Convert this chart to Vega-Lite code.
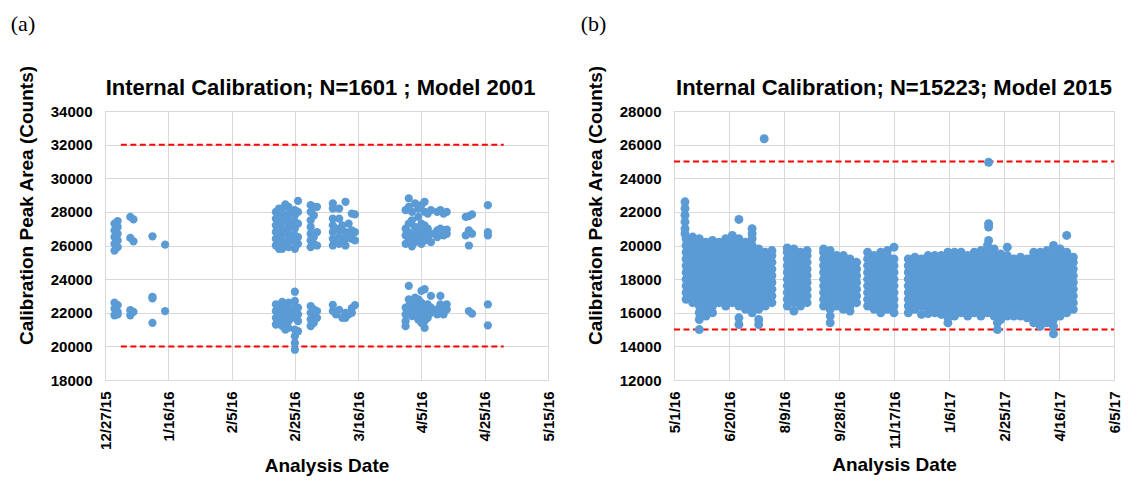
{
  "$schema": "https://vega.github.io/schema/vega-lite/v6.json",
  "background": "white",
  "padding": {"left": 10, "top": 12, "right": 0, "bottom": 0},
  "spacing": 23,
  "config": {
    "font": "Liberation Sans",
    "view": {"stroke": "#d9d9d9", "strokeWidth": 1},
    "axis": {
      "labelFont": "Liberation Sans", "labelFontWeight": "bold", "labelFontSize": 15, "labelColor": "#000000",
      "titleFont": "Liberation Sans", "titleFontWeight": "bold", "titleFontSize": 19, "titleColor": "#000000",
      "gridColor": "#d9d9d9", "gridWidth": 1, "domainColor": "#d9d9d9", "domainWidth": 1, "ticks": false,
      "labelOverlap": false, "labelFlush": false
    },
    "title": {"font": "Liberation Sans", "fontSize": 22, "fontWeight": "bold", "color": "#000000"}
  },
  "datasets": {
    "la": [{"d": "2016-01-01", "d2": "2016-05-01", "v": 32000}, {"d": "2016-01-01", "d2": "2016-05-01", "v": 20000}],
    "lb": [{"d": "2016-05-01", "d2": "2017-06-05", "v": 25000}, {"d": "2016-05-01", "d2": "2017-06-05", "v": 15000}],
    "a": [
      {"d":"2015-12-30","v":25700},{"d":"2015-12-30","v":26100},{"d":"2015-12-30","v":26500},{"d":"2015-12-30","v":26900},{"d":"2015-12-30","v":27300},{"d":"2015-12-30","v":21850},{"d":"2015-12-30","v":22250},{"d":"2015-12-30","v":22600},
      {"d":"2015-12-31","v":25900},{"d":"2015-12-31","v":26300},{"d":"2015-12-31","v":26700},{"d":"2015-12-31","v":27100},{"d":"2015-12-31","v":27450},{"d":"2015-12-31","v":22050},{"d":"2015-12-31","v":22450},{"d":"2015-12-31","v":21900},
      {"d":"2016-01-04","v":27700},{"d":"2016-01-04","v":26450},{"d":"2016-01-04","v":21850},{"d":"2016-01-04","v":22150},
      {"d":"2016-01-05","v":27550},{"d":"2016-01-05","v":26250},{"d":"2016-01-05","v":22050},
      {"d":"2016-01-11","v":26550},{"d":"2016-01-11","v":22950},{"d":"2016-01-11","v":22850},{"d":"2016-01-11","v":21400},
      {"d":"2016-01-15","v":26050},{"d":"2016-01-15","v":22100},
      {"d":"2016-02-19","v":26000},{"d":"2016-02-19","v":26400},{"d":"2016-02-19","v":26800},{"d":"2016-02-19","v":27200},{"d":"2016-02-19","v":27600},{"d":"2016-02-19","v":28000},{"d":"2016-02-19","v":21300},{"d":"2016-02-19","v":21700},{"d":"2016-02-19","v":22100},{"d":"2016-02-19","v":22500},
      {"d":"2016-02-20","v":25800},{"d":"2016-02-20","v":26600},{"d":"2016-02-20","v":27400},{"d":"2016-02-20","v":28200},{"d":"2016-02-20","v":21500},{"d":"2016-02-20","v":21900},{"d":"2016-02-20","v":22300},
      {"d":"2016-02-21","v":25800},{"d":"2016-02-21","v":26200},{"d":"2016-02-21","v":26600},{"d":"2016-02-21","v":27000},{"d":"2016-02-21","v":27400},{"d":"2016-02-21","v":27800},{"d":"2016-02-21","v":28200},{"d":"2016-02-21","v":21200},{"d":"2016-02-21","v":21600},{"d":"2016-02-21","v":22000},{"d":"2016-02-21","v":22400},{"d":"2016-02-21","v":22650},
      {"d":"2016-02-22","v":26000},{"d":"2016-02-22","v":26800},{"d":"2016-02-22","v":27600},{"d":"2016-02-22","v":28450},{"d":"2016-02-22","v":21000},{"d":"2016-02-22","v":21400},{"d":"2016-02-22","v":21800},{"d":"2016-02-22","v":22200},
      {"d":"2016-02-23","v":25900},{"d":"2016-02-23","v":26300},{"d":"2016-02-23","v":26700},{"d":"2016-02-23","v":27100},{"d":"2016-02-23","v":27500},{"d":"2016-02-23","v":27900},{"d":"2016-02-23","v":28300},{"d":"2016-02-23","v":21100},{"d":"2016-02-23","v":21500},{"d":"2016-02-23","v":21900},{"d":"2016-02-23","v":22300},{"d":"2016-02-23","v":22600},
      {"d":"2016-02-24","v":26400},{"d":"2016-02-24","v":27200},{"d":"2016-02-24","v":28000},{"d":"2016-02-24","v":21700},{"d":"2016-02-24","v":22100},
      {"d":"2016-02-25","v":25800},{"d":"2016-02-25","v":26200},{"d":"2016-02-25","v":26600},{"d":"2016-02-25","v":27000},{"d":"2016-02-25","v":27400},{"d":"2016-02-25","v":27800},{"d":"2016-02-25","v":28100},{"d":"2016-02-25","v":23250},{"d":"2016-02-25","v":22700},{"d":"2016-02-25","v":22300},{"d":"2016-02-25","v":21800},{"d":"2016-02-25","v":21000},{"d":"2016-02-25","v":20600},{"d":"2016-02-25","v":20200},{"d":"2016-02-25","v":19800},
      {"d":"2016-02-26","v":26100},{"d":"2016-02-26","v":26500},{"d":"2016-02-26","v":27300},{"d":"2016-02-26","v":28000},{"d":"2016-02-26","v":28650},{"d":"2016-02-26","v":21500},{"d":"2016-02-26","v":21900},{"d":"2016-02-26","v":22300},{"d":"2016-02-26","v":20900},
      {"d":"2016-03-01","v":25900},{"d":"2016-03-01","v":26300},{"d":"2016-03-01","v":26700},{"d":"2016-03-01","v":27100},{"d":"2016-03-01","v":27500},{"d":"2016-03-01","v":28000},{"d":"2016-03-01","v":28400},{"d":"2016-03-01","v":21200},{"d":"2016-03-01","v":21600},{"d":"2016-03-01","v":22000},{"d":"2016-03-01","v":22400},
      {"d":"2016-03-02","v":26100},{"d":"2016-03-02","v":26500},{"d":"2016-03-02","v":27800},{"d":"2016-03-02","v":28300},{"d":"2016-03-02","v":21400},{"d":"2016-03-02","v":21800},{"d":"2016-03-02","v":22200},
      {"d":"2016-03-03","v":26000},{"d":"2016-03-03","v":26800},{"d":"2016-03-03","v":28300},{"d":"2016-03-03","v":21700},{"d":"2016-03-03","v":22100},
      {"d":"2016-03-08","v":26000},{"d":"2016-03-08","v":26400},{"d":"2016-03-08","v":26800},{"d":"2016-03-08","v":27200},{"d":"2016-03-08","v":27600},{"d":"2016-03-08","v":28200},{"d":"2016-03-08","v":28500},{"d":"2016-03-08","v":22470},{"d":"2016-03-08","v":22100},
      {"d":"2016-03-09","v":26200},{"d":"2016-03-09","v":27000},{"d":"2016-03-09","v":21900},
      {"d":"2016-03-10","v":26100},{"d":"2016-03-10","v":26500},{"d":"2016-03-10","v":26900},{"d":"2016-03-10","v":27600},{"d":"2016-03-10","v":28200},{"d":"2016-03-10","v":22170},
      {"d":"2016-03-11","v":26300},{"d":"2016-03-11","v":27200},{"d":"2016-03-11","v":21700},
      {"d":"2016-03-12","v":26000},{"d":"2016-03-12","v":26400},{"d":"2016-03-12","v":26800},{"d":"2016-03-12","v":28600},{"d":"2016-03-12","v":21700},{"d":"2016-03-12","v":22000},
      {"d":"2016-03-13","v":27300},{"d":"2016-03-13","v":26500},{"d":"2016-03-13","v":21900},
      {"d":"2016-03-14","v":26400},{"d":"2016-03-14","v":26900},{"d":"2016-03-14","v":27900},{"d":"2016-03-14","v":22270},{"d":"2016-03-14","v":22000},
      {"d":"2016-03-15","v":27850},{"d":"2016-03-15","v":26800},{"d":"2016-03-15","v":26300},{"d":"2016-03-15","v":22450},
      {"d":"2016-03-31","v":26100},{"d":"2016-03-31","v":26600},{"d":"2016-03-31","v":27000},{"d":"2016-03-31","v":28100},{"d":"2016-03-31","v":21200},{"d":"2016-03-31","v":21500},{"d":"2016-03-31","v":21900},{"d":"2016-03-31","v":22300},
      {"d":"2016-04-01","v":26300},{"d":"2016-04-01","v":26800},{"d":"2016-04-01","v":27300},{"d":"2016-04-01","v":28300},{"d":"2016-04-01","v":28800},{"d":"2016-04-01","v":22000},{"d":"2016-04-01","v":22400},{"d":"2016-04-01","v":22800},{"d":"2016-04-01","v":23600},
      {"d":"2016-04-02","v":25950},{"d":"2016-04-02","v":26500},{"d":"2016-04-02","v":27500},{"d":"2016-04-02","v":28000},{"d":"2016-04-02","v":21800},{"d":"2016-04-02","v":22200},{"d":"2016-04-02","v":22600},
      {"d":"2016-04-03","v":26200},{"d":"2016-04-03","v":26700},{"d":"2016-04-03","v":27100},{"d":"2016-04-03","v":28500},{"d":"2016-04-03","v":22100},{"d":"2016-04-03","v":22500},{"d":"2016-04-03","v":22900},
      {"d":"2016-04-04","v":26400},{"d":"2016-04-04","v":26900},{"d":"2016-04-04","v":27700},{"d":"2016-04-04","v":28200},{"d":"2016-04-04","v":21600},{"d":"2016-04-04","v":22000},{"d":"2016-04-04","v":22400},{"d":"2016-04-04","v":22800},
      {"d":"2016-04-05","v":26100},{"d":"2016-04-05","v":26600},{"d":"2016-04-05","v":27300},{"d":"2016-04-05","v":28400},{"d":"2016-04-05","v":21400},{"d":"2016-04-05","v":21800},{"d":"2016-04-05","v":22200},{"d":"2016-04-05","v":22600},{"d":"2016-04-05","v":23300},
      {"d":"2016-04-06","v":26300},{"d":"2016-04-06","v":26800},{"d":"2016-04-06","v":27200},{"d":"2016-04-06","v":28000},{"d":"2016-04-06","v":28600},{"d":"2016-04-06","v":21100},{"d":"2016-04-06","v":21500},{"d":"2016-04-06","v":21900},{"d":"2016-04-06","v":22300},{"d":"2016-04-06","v":23400},
      {"d":"2016-04-07","v":26500},{"d":"2016-04-07","v":27000},{"d":"2016-04-07","v":27900},{"d":"2016-04-07","v":21700},{"d":"2016-04-07","v":22100},{"d":"2016-04-07","v":22500},
      {"d":"2016-04-08","v":26200},{"d":"2016-04-08","v":26700},{"d":"2016-04-08","v":28100},{"d":"2016-04-08","v":22000},{"d":"2016-04-08","v":22300},{"d":"2016-04-08","v":23000},
      {"d":"2016-04-10","v":26500},{"d":"2016-04-10","v":26900},{"d":"2016-04-10","v":28000},{"d":"2016-04-10","v":21900},{"d":"2016-04-10","v":22200},
      {"d":"2016-04-11","v":26800},{"d":"2016-04-11","v":27000},{"d":"2016-04-11","v":28100},{"d":"2016-04-11","v":22100},{"d":"2016-04-11","v":22500},{"d":"2016-04-11","v":23000},
      {"d":"2016-04-12","v":26600},{"d":"2016-04-12","v":26900},{"d":"2016-04-12","v":27900},{"d":"2016-04-12","v":21900},{"d":"2016-04-12","v":22300},
      {"d":"2016-04-13","v":26700},{"d":"2016-04-13","v":26950},{"d":"2016-04-13","v":28000},{"d":"2016-04-13","v":22200},{"d":"2016-04-13","v":22500},
      {"d":"2016-04-19","v":27700},{"d":"2016-04-19","v":26600},
      {"d":"2016-04-20","v":27750},{"d":"2016-04-20","v":26900},{"d":"2016-04-20","v":26000},{"d":"2016-04-20","v":22100},
      {"d":"2016-04-21","v":27850},{"d":"2016-04-21","v":26700},{"d":"2016-04-21","v":21950},
      {"d":"2016-04-26","v":28400},{"d":"2016-04-26","v":26800},{"d":"2016-04-26","v":26600},{"d":"2016-04-26","v":22500},{"d":"2016-04-26","v":21250}
    ],
    "b": [
      {"d":"2016-05-11","v":22600},{"d":"2016-05-11","v":22200},{"d":"2016-05-11","v":21800},{"d":"2016-05-11","v":21400},{"d":"2016-05-11","v":21000},{"d":"2016-05-11","v":20700},
      {"d":"2016-05-12","v":16800},{"d":"2016-05-12","v":17200},{"d":"2016-05-12","v":17600},{"d":"2016-05-12","v":18000},{"d":"2016-05-12","v":18400},{"d":"2016-05-12","v":18800},{"d":"2016-05-12","v":19200},{"d":"2016-05-12","v":19600},{"d":"2016-05-12","v":20000},{"d":"2016-05-12","v":20400},
      {"d":"2016-05-18","v":16600},{"d":"2016-05-18","v":17000},{"d":"2016-05-18","v":17400},{"d":"2016-05-18","v":17800},{"d":"2016-05-18","v":18200},{"d":"2016-05-18","v":18600},{"d":"2016-05-18","v":19000},{"d":"2016-05-18","v":19400},{"d":"2016-05-18","v":19800},{"d":"2016-05-18","v":20200},{"d":"2016-05-18","v":20500},
      {"d":"2016-05-24","v":15000},{"d":"2016-05-24","v":15600},{"d":"2016-05-24","v":16000},{"d":"2016-05-24","v":16400},{"d":"2016-05-24","v":16800},{"d":"2016-05-24","v":17200},{"d":"2016-05-24","v":17600},{"d":"2016-05-24","v":18000},{"d":"2016-05-24","v":18400},{"d":"2016-05-24","v":18800},{"d":"2016-05-24","v":19200},{"d":"2016-05-24","v":19600},{"d":"2016-05-24","v":20000},{"d":"2016-05-24","v":20400},
      {"d":"2016-05-30","v":15800},{"d":"2016-05-30","v":16200},{"d":"2016-05-30","v":16600},{"d":"2016-05-30","v":17000},{"d":"2016-05-30","v":17400},{"d":"2016-05-30","v":17800},{"d":"2016-05-30","v":18200},{"d":"2016-05-30","v":18600},{"d":"2016-05-30","v":19000},{"d":"2016-05-30","v":19400},{"d":"2016-05-30","v":19800},{"d":"2016-05-30","v":20200},
      {"d":"2016-06-05","v":16000},{"d":"2016-06-05","v":16400},{"d":"2016-06-05","v":16800},{"d":"2016-06-05","v":17200},{"d":"2016-06-05","v":17600},{"d":"2016-06-05","v":18000},{"d":"2016-06-05","v":18400},{"d":"2016-06-05","v":18800},{"d":"2016-06-05","v":19200},{"d":"2016-06-05","v":19600},{"d":"2016-06-05","v":20000},{"d":"2016-06-05","v":20300},
      {"d":"2016-06-11","v":16600},{"d":"2016-06-11","v":17000},{"d":"2016-06-11","v":17400},{"d":"2016-06-11","v":17800},{"d":"2016-06-11","v":18200},{"d":"2016-06-11","v":18600},{"d":"2016-06-11","v":19000},{"d":"2016-06-11","v":19400},{"d":"2016-06-11","v":19800},{"d":"2016-06-11","v":20200},
      {"d":"2016-06-17","v":16400},{"d":"2016-06-17","v":16800},{"d":"2016-06-17","v":17200},{"d":"2016-06-17","v":17600},{"d":"2016-06-17","v":18000},{"d":"2016-06-17","v":18400},{"d":"2016-06-17","v":18800},{"d":"2016-06-17","v":19200},{"d":"2016-06-17","v":19600},{"d":"2016-06-17","v":20000},{"d":"2016-06-17","v":20400},
      {"d":"2016-06-23","v":16600},{"d":"2016-06-23","v":17000},{"d":"2016-06-23","v":17400},{"d":"2016-06-23","v":17800},{"d":"2016-06-23","v":18200},{"d":"2016-06-23","v":18600},{"d":"2016-06-23","v":19000},{"d":"2016-06-23","v":19400},{"d":"2016-06-23","v":19800},{"d":"2016-06-23","v":20200},{"d":"2016-06-23","v":20600},
      {"d":"2016-06-29","v":15300},{"d":"2016-06-29","v":15700},{"d":"2016-06-29","v":16400},{"d":"2016-06-29","v":16800},{"d":"2016-06-29","v":17200},{"d":"2016-06-29","v":17600},{"d":"2016-06-29","v":18000},{"d":"2016-06-29","v":18400},{"d":"2016-06-29","v":18800},{"d":"2016-06-29","v":19200},{"d":"2016-06-29","v":19600},{"d":"2016-06-29","v":20000},{"d":"2016-06-29","v":20400},{"d":"2016-06-29","v":21550},
      {"d":"2016-07-05","v":16200},{"d":"2016-07-05","v":16600},{"d":"2016-07-05","v":17000},{"d":"2016-07-05","v":17400},{"d":"2016-07-05","v":17800},{"d":"2016-07-05","v":18200},{"d":"2016-07-05","v":18600},{"d":"2016-07-05","v":19000},{"d":"2016-07-05","v":19400},{"d":"2016-07-05","v":19800},{"d":"2016-07-05","v":20200},
      {"d":"2016-07-11","v":16000},{"d":"2016-07-11","v":16400},{"d":"2016-07-11","v":16800},{"d":"2016-07-11","v":17200},{"d":"2016-07-11","v":17600},{"d":"2016-07-11","v":18000},{"d":"2016-07-11","v":18400},{"d":"2016-07-11","v":18800},{"d":"2016-07-11","v":19200},{"d":"2016-07-11","v":19600},{"d":"2016-07-11","v":20000},{"d":"2016-07-11","v":20400},{"d":"2016-07-11","v":20700},{"d":"2016-07-11","v":21000},
      {"d":"2016-07-17","v":15300},{"d":"2016-07-17","v":15600},{"d":"2016-07-17","v":16200},{"d":"2016-07-17","v":16600},{"d":"2016-07-17","v":17000},{"d":"2016-07-17","v":17400},{"d":"2016-07-17","v":17800},{"d":"2016-07-17","v":18200},{"d":"2016-07-17","v":18600},{"d":"2016-07-17","v":19000},{"d":"2016-07-17","v":19400},{"d":"2016-07-17","v":19800},
      {"d":"2016-07-22","v":26350},
      {"d":"2016-07-23","v":16400},{"d":"2016-07-23","v":16800},{"d":"2016-07-23","v":17200},{"d":"2016-07-23","v":17600},{"d":"2016-07-23","v":18000},{"d":"2016-07-23","v":18400},{"d":"2016-07-23","v":18800},{"d":"2016-07-23","v":19200},{"d":"2016-07-23","v":19600},
      {"d":"2016-07-29","v":16600},{"d":"2016-07-29","v":17000},{"d":"2016-07-29","v":17400},{"d":"2016-07-29","v":17800},{"d":"2016-07-29","v":18200},{"d":"2016-07-29","v":18600},{"d":"2016-07-29","v":19000},{"d":"2016-07-29","v":19400},{"d":"2016-07-29","v":19700},
      {"d":"2016-08-12","v":16400},{"d":"2016-08-12","v":16800},{"d":"2016-08-12","v":17200},{"d":"2016-08-12","v":17600},{"d":"2016-08-12","v":18000},{"d":"2016-08-12","v":18400},{"d":"2016-08-12","v":18800},{"d":"2016-08-12","v":19200},{"d":"2016-08-12","v":19600},{"d":"2016-08-12","v":19850},
      {"d":"2016-08-18","v":16100},{"d":"2016-08-18","v":16600},{"d":"2016-08-18","v":17000},{"d":"2016-08-18","v":17400},{"d":"2016-08-18","v":17800},{"d":"2016-08-18","v":18200},{"d":"2016-08-18","v":18600},{"d":"2016-08-18","v":19000},{"d":"2016-08-18","v":19400},{"d":"2016-08-18","v":19800},
      {"d":"2016-08-24","v":16400},{"d":"2016-08-24","v":16800},{"d":"2016-08-24","v":17200},{"d":"2016-08-24","v":17600},{"d":"2016-08-24","v":18000},{"d":"2016-08-24","v":18400},{"d":"2016-08-24","v":18800},{"d":"2016-08-24","v":19200},{"d":"2016-08-24","v":19600},
      {"d":"2016-08-30","v":16600},{"d":"2016-08-30","v":17000},{"d":"2016-08-30","v":17400},{"d":"2016-08-30","v":17800},{"d":"2016-08-30","v":18200},{"d":"2016-08-30","v":18600},{"d":"2016-08-30","v":19000},{"d":"2016-08-30","v":19400},{"d":"2016-08-30","v":19700},
      {"d":"2016-09-14","v":16400},{"d":"2016-09-14","v":16800},{"d":"2016-09-14","v":17200},{"d":"2016-09-14","v":17600},{"d":"2016-09-14","v":18000},{"d":"2016-09-14","v":18400},{"d":"2016-09-14","v":18800},{"d":"2016-09-14","v":19200},{"d":"2016-09-14","v":19600},{"d":"2016-09-14","v":19800},
      {"d":"2016-09-20","v":15400},{"d":"2016-09-20","v":15800},{"d":"2016-09-20","v":16200},{"d":"2016-09-20","v":16600},{"d":"2016-09-20","v":17000},{"d":"2016-09-20","v":17400},{"d":"2016-09-20","v":17800},{"d":"2016-09-20","v":18200},{"d":"2016-09-20","v":18600},{"d":"2016-09-20","v":19000},{"d":"2016-09-20","v":19400},{"d":"2016-09-20","v":19700},
      {"d":"2016-09-26","v":16400},{"d":"2016-09-26","v":16800},{"d":"2016-09-26","v":17200},{"d":"2016-09-26","v":17600},{"d":"2016-09-26","v":18000},{"d":"2016-09-26","v":18400},{"d":"2016-09-26","v":18800},{"d":"2016-09-26","v":19200},{"d":"2016-09-26","v":19400},
      {"d":"2016-10-02","v":16200},{"d":"2016-10-02","v":16600},{"d":"2016-10-02","v":17000},{"d":"2016-10-02","v":17400},{"d":"2016-10-02","v":17800},{"d":"2016-10-02","v":18200},{"d":"2016-10-02","v":18600},{"d":"2016-10-02","v":19000},{"d":"2016-10-02","v":19400},
      {"d":"2016-10-08","v":16100},{"d":"2016-10-08","v":16400},{"d":"2016-10-08","v":16800},{"d":"2016-10-08","v":17200},{"d":"2016-10-08","v":17600},{"d":"2016-10-08","v":18000},{"d":"2016-10-08","v":18400},{"d":"2016-10-08","v":18800},{"d":"2016-10-08","v":19200},
      {"d":"2016-10-14","v":16600},{"d":"2016-10-14","v":17000},{"d":"2016-10-14","v":17400},{"d":"2016-10-14","v":17800},{"d":"2016-10-14","v":18200},{"d":"2016-10-14","v":18600},{"d":"2016-10-14","v":19000},
      {"d":"2016-10-24","v":16400},{"d":"2016-10-24","v":16800},{"d":"2016-10-24","v":17200},{"d":"2016-10-24","v":17600},{"d":"2016-10-24","v":18000},{"d":"2016-10-24","v":18400},{"d":"2016-10-24","v":18800},{"d":"2016-10-24","v":19200},{"d":"2016-10-24","v":19600},
      {"d":"2016-10-30","v":16200},{"d":"2016-10-30","v":16600},{"d":"2016-10-30","v":17000},{"d":"2016-10-30","v":17400},{"d":"2016-10-30","v":17800},{"d":"2016-10-30","v":18200},{"d":"2016-10-30","v":18600},{"d":"2016-10-30","v":19000},{"d":"2016-10-30","v":19400},
      {"d":"2016-11-05","v":16000},{"d":"2016-11-05","v":16400},{"d":"2016-11-05","v":16800},{"d":"2016-11-05","v":17200},{"d":"2016-11-05","v":17600},{"d":"2016-11-05","v":18000},{"d":"2016-11-05","v":18400},{"d":"2016-11-05","v":18800},{"d":"2016-11-05","v":19200},{"d":"2016-11-05","v":19600},
      {"d":"2016-11-11","v":16200},{"d":"2016-11-11","v":16600},{"d":"2016-11-11","v":17000},{"d":"2016-11-11","v":17400},{"d":"2016-11-11","v":17800},{"d":"2016-11-11","v":18200},{"d":"2016-11-11","v":18600},{"d":"2016-11-11","v":19000},{"d":"2016-11-11","v":19400},{"d":"2016-11-11","v":19700},
      {"d":"2016-11-17","v":16000},{"d":"2016-11-17","v":16400},{"d":"2016-11-17","v":16800},{"d":"2016-11-17","v":17200},{"d":"2016-11-17","v":17600},{"d":"2016-11-17","v":18000},{"d":"2016-11-17","v":18400},{"d":"2016-11-17","v":18800},{"d":"2016-11-17","v":19200},{"d":"2016-11-17","v":19900},
      {"d":"2016-11-30","v":16000},{"d":"2016-11-30","v":16400},{"d":"2016-11-30","v":16800},{"d":"2016-11-30","v":17200},{"d":"2016-11-30","v":17600},{"d":"2016-11-30","v":18000},{"d":"2016-11-30","v":18400},{"d":"2016-11-30","v":18800},{"d":"2016-11-30","v":19200},
      {"d":"2016-12-06","v":16200},{"d":"2016-12-06","v":16600},{"d":"2016-12-06","v":17000},{"d":"2016-12-06","v":17400},{"d":"2016-12-06","v":17800},{"d":"2016-12-06","v":18200},{"d":"2016-12-06","v":18600},{"d":"2016-12-06","v":19000},{"d":"2016-12-06","v":19300},
      {"d":"2016-12-12","v":15900},{"d":"2016-12-12","v":16400},{"d":"2016-12-12","v":16800},{"d":"2016-12-12","v":17200},{"d":"2016-12-12","v":17600},{"d":"2016-12-12","v":18000},{"d":"2016-12-12","v":18400},{"d":"2016-12-12","v":18800},{"d":"2016-12-12","v":19200},
      {"d":"2016-12-18","v":15950},{"d":"2016-12-18","v":16200},{"d":"2016-12-18","v":16600},{"d":"2016-12-18","v":17000},{"d":"2016-12-18","v":17400},{"d":"2016-12-18","v":17800},{"d":"2016-12-18","v":18200},{"d":"2016-12-18","v":18600},{"d":"2016-12-18","v":19000},{"d":"2016-12-18","v":19400},
      {"d":"2016-12-24","v":16000},{"d":"2016-12-24","v":16400},{"d":"2016-12-24","v":16800},{"d":"2016-12-24","v":17200},{"d":"2016-12-24","v":17600},{"d":"2016-12-24","v":18000},{"d":"2016-12-24","v":18400},{"d":"2016-12-24","v":18800},{"d":"2016-12-24","v":19200},{"d":"2016-12-24","v":19400},
      {"d":"2016-12-30","v":15900},{"d":"2016-12-30","v":16200},{"d":"2016-12-30","v":16600},{"d":"2016-12-30","v":17000},{"d":"2016-12-30","v":17400},{"d":"2016-12-30","v":17800},{"d":"2016-12-30","v":18200},{"d":"2016-12-30","v":18600},{"d":"2016-12-30","v":19000},{"d":"2016-12-30","v":19400},
      {"d":"2017-01-05","v":15400},{"d":"2017-01-05","v":15700},{"d":"2017-01-05","v":16000},{"d":"2017-01-05","v":16400},{"d":"2017-01-05","v":16800},{"d":"2017-01-05","v":17200},{"d":"2017-01-05","v":17600},{"d":"2017-01-05","v":18000},{"d":"2017-01-05","v":18400},{"d":"2017-01-05","v":18800},{"d":"2017-01-05","v":19200},{"d":"2017-01-05","v":19600},
      {"d":"2017-01-11","v":15800},{"d":"2017-01-11","v":16200},{"d":"2017-01-11","v":16600},{"d":"2017-01-11","v":17000},{"d":"2017-01-11","v":17400},{"d":"2017-01-11","v":17800},{"d":"2017-01-11","v":18200},{"d":"2017-01-11","v":18600},{"d":"2017-01-11","v":19000},{"d":"2017-01-11","v":19400},{"d":"2017-01-11","v":19600},
      {"d":"2017-01-17","v":16000},{"d":"2017-01-17","v":16400},{"d":"2017-01-17","v":16800},{"d":"2017-01-17","v":17200},{"d":"2017-01-17","v":17600},{"d":"2017-01-17","v":18000},{"d":"2017-01-17","v":18400},{"d":"2017-01-17","v":18800},{"d":"2017-01-17","v":19200},{"d":"2017-01-17","v":19600},
      {"d":"2017-01-23","v":15800},{"d":"2017-01-23","v":16200},{"d":"2017-01-23","v":16600},{"d":"2017-01-23","v":17000},{"d":"2017-01-23","v":17400},{"d":"2017-01-23","v":17800},{"d":"2017-01-23","v":18200},{"d":"2017-01-23","v":18600},{"d":"2017-01-23","v":19000},{"d":"2017-01-23","v":19400},
      {"d":"2017-01-29","v":16000},{"d":"2017-01-29","v":16400},{"d":"2017-01-29","v":16800},{"d":"2017-01-29","v":17200},{"d":"2017-01-29","v":17600},{"d":"2017-01-29","v":18000},{"d":"2017-01-29","v":18400},{"d":"2017-01-29","v":18800},{"d":"2017-01-29","v":19200},{"d":"2017-01-29","v":19600},
      {"d":"2017-02-04","v":15800},{"d":"2017-02-04","v":16200},{"d":"2017-02-04","v":16600},{"d":"2017-02-04","v":17000},{"d":"2017-02-04","v":17400},{"d":"2017-02-04","v":17800},{"d":"2017-02-04","v":18200},{"d":"2017-02-04","v":18600},{"d":"2017-02-04","v":19000},{"d":"2017-02-04","v":19400},{"d":"2017-02-04","v":19700},
      {"d":"2017-02-10","v":16000},{"d":"2017-02-10","v":16400},{"d":"2017-02-10","v":16800},{"d":"2017-02-10","v":17200},{"d":"2017-02-10","v":17600},{"d":"2017-02-10","v":18000},{"d":"2017-02-10","v":18400},{"d":"2017-02-10","v":18800},{"d":"2017-02-10","v":19200},{"d":"2017-02-10","v":19600},{"d":"2017-02-10","v":20000},
      {"d":"2017-02-11","v":24950},{"d":"2017-02-11","v":21300},{"d":"2017-02-11","v":21100},{"d":"2017-02-11","v":20300},
      {"d":"2017-02-16","v":15800},{"d":"2017-02-16","v":16200},{"d":"2017-02-16","v":16600},{"d":"2017-02-16","v":17000},{"d":"2017-02-16","v":17400},{"d":"2017-02-16","v":17800},{"d":"2017-02-16","v":18200},{"d":"2017-02-16","v":18600},{"d":"2017-02-16","v":19000},{"d":"2017-02-16","v":19400},{"d":"2017-02-16","v":19800},
      {"d":"2017-02-19","v":15000},{"d":"2017-02-19","v":15400},
      {"d":"2017-02-22","v":15600},{"d":"2017-02-22","v":16000},{"d":"2017-02-22","v":16400},{"d":"2017-02-22","v":16800},{"d":"2017-02-22","v":17200},{"d":"2017-02-22","v":17600},{"d":"2017-02-22","v":18000},{"d":"2017-02-22","v":18400},{"d":"2017-02-22","v":18800},{"d":"2017-02-22","v":19200},{"d":"2017-02-22","v":19500},
      {"d":"2017-02-28","v":15800},{"d":"2017-02-28","v":16200},{"d":"2017-02-28","v":16600},{"d":"2017-02-28","v":17000},{"d":"2017-02-28","v":17400},{"d":"2017-02-28","v":17800},{"d":"2017-02-28","v":18200},{"d":"2017-02-28","v":18600},{"d":"2017-02-28","v":19000},{"d":"2017-02-28","v":19400},{"d":"2017-02-28","v":19900},
      {"d":"2017-03-06","v":15800},{"d":"2017-03-06","v":16000},{"d":"2017-03-06","v":16400},{"d":"2017-03-06","v":16800},{"d":"2017-03-06","v":17200},{"d":"2017-03-06","v":17600},{"d":"2017-03-06","v":18000},{"d":"2017-03-06","v":18400},{"d":"2017-03-06","v":18800},{"d":"2017-03-06","v":19200},
      {"d":"2017-03-12","v":15800},{"d":"2017-03-12","v":16200},{"d":"2017-03-12","v":16600},{"d":"2017-03-12","v":17000},{"d":"2017-03-12","v":17400},{"d":"2017-03-12","v":17800},{"d":"2017-03-12","v":18200},{"d":"2017-03-12","v":18600},{"d":"2017-03-12","v":19000},{"d":"2017-03-12","v":19300},
      {"d":"2017-03-18","v":15700},{"d":"2017-03-18","v":16000},{"d":"2017-03-18","v":16400},{"d":"2017-03-18","v":16800},{"d":"2017-03-18","v":17200},{"d":"2017-03-18","v":17600},{"d":"2017-03-18","v":18000},{"d":"2017-03-18","v":18400},{"d":"2017-03-18","v":18800},{"d":"2017-03-18","v":19200},
      {"d":"2017-03-24","v":15400},{"d":"2017-03-24","v":15800},{"d":"2017-03-24","v":16200},{"d":"2017-03-24","v":16600},{"d":"2017-03-24","v":17000},{"d":"2017-03-24","v":17400},{"d":"2017-03-24","v":17800},{"d":"2017-03-24","v":18200},{"d":"2017-03-24","v":18600},{"d":"2017-03-24","v":19000},{"d":"2017-03-24","v":19400},{"d":"2017-03-24","v":19600},
      {"d":"2017-03-30","v":15200},{"d":"2017-03-30","v":15600},{"d":"2017-03-30","v":16000},{"d":"2017-03-30","v":16400},{"d":"2017-03-30","v":16800},{"d":"2017-03-30","v":17200},{"d":"2017-03-30","v":17600},{"d":"2017-03-30","v":18000},{"d":"2017-03-30","v":18400},{"d":"2017-03-30","v":18800},{"d":"2017-03-30","v":19200},{"d":"2017-03-30","v":19600},
      {"d":"2017-04-05","v":15400},{"d":"2017-04-05","v":15800},{"d":"2017-04-05","v":16200},{"d":"2017-04-05","v":16600},{"d":"2017-04-05","v":17000},{"d":"2017-04-05","v":17400},{"d":"2017-04-05","v":17800},{"d":"2017-04-05","v":18200},{"d":"2017-04-05","v":18600},{"d":"2017-04-05","v":19000},{"d":"2017-04-05","v":19400},{"d":"2017-04-05","v":19700},
      {"d":"2017-04-11","v":14750},{"d":"2017-04-11","v":15200},{"d":"2017-04-11","v":15600},{"d":"2017-04-11","v":16000},{"d":"2017-04-11","v":16400},{"d":"2017-04-11","v":16800},{"d":"2017-04-11","v":17200},{"d":"2017-04-11","v":17600},{"d":"2017-04-11","v":18000},{"d":"2017-04-11","v":18400},{"d":"2017-04-11","v":18800},{"d":"2017-04-11","v":19200},{"d":"2017-04-11","v":19600},{"d":"2017-04-11","v":20000},
      {"d":"2017-04-17","v":15800},{"d":"2017-04-17","v":16200},{"d":"2017-04-17","v":16600},{"d":"2017-04-17","v":17000},{"d":"2017-04-17","v":17400},{"d":"2017-04-17","v":17800},{"d":"2017-04-17","v":18200},{"d":"2017-04-17","v":18600},{"d":"2017-04-17","v":19000},{"d":"2017-04-17","v":19400},{"d":"2017-04-17","v":19800},
      {"d":"2017-04-23","v":16000},{"d":"2017-04-23","v":16400},{"d":"2017-04-23","v":16800},{"d":"2017-04-23","v":17200},{"d":"2017-04-23","v":17600},{"d":"2017-04-23","v":18000},{"d":"2017-04-23","v":18400},{"d":"2017-04-23","v":18800},{"d":"2017-04-23","v":19200},{"d":"2017-04-23","v":19600},{"d":"2017-04-23","v":20600},
      {"d":"2017-04-29","v":16200},{"d":"2017-04-29","v":16600},{"d":"2017-04-29","v":17000},{"d":"2017-04-29","v":17400},{"d":"2017-04-29","v":17800},{"d":"2017-04-29","v":18200},{"d":"2017-04-29","v":18600},{"d":"2017-04-29","v":19000},{"d":"2017-04-29","v":19300}
    ]
  },
  "hconcat": [
    {
      "title": {"text": "(a)", "anchor": "start", "font": "Liberation Serif", "fontSize": 22, "fontWeight": "normal", "offset": 29, "dx": -6},
      "vconcat": [
        {
          "width": 443, "height": 269,
          "title": {"text": "Internal Calibration; N=1601 ; Model 2001", "offset": -35, "dx": -6},
          "encoding": {
            "x": {"field": "d", "type": "temporal",
              "scale": {"type": "utc", "nice": false, "domain": [{"year": 2015, "month": 12, "date": 27, "utc": true}, {"year": 2016, "month": 5, "date": 15, "utc": true}]},
              "axis": {"title": "Analysis Date", "format": "%-m/%-d/%y", "labelAngle": -90, "labelPadding": 11, "titlePadding": 7, "grid": true,
                "values": [{"year": 2015, "month": 12, "date": 27, "utc": true}, {"year": 2016, "month": 1, "date": 16, "utc": true}, {"year": 2016, "month": 2, "date": 5, "utc": true}, {"year": 2016, "month": 2, "date": 25, "utc": true}, {"year": 2016, "month": 3, "date": 16, "utc": true}, {"year": 2016, "month": 4, "date": 5, "utc": true}, {"year": 2016, "month": 4, "date": 25, "utc": true}, {"year": 2016, "month": 5, "date": 15, "utc": true}]}},
            "y": {"field": "v", "type": "quantitative",
              "scale": {"domain": [18000, 34000], "nice": false, "zero": false},
              "axis": {"title": "Calibration Peak Area (Counts)", "format": "d", "values": [18000, 20000, 22000, 24000, 26000, 28000, 30000, 32000, 34000], "labelPadding": 13, "titlePadding": 14, "titleY": 94, "grid": true}}
          },
          "layer": [
            {"data": {"name": "la"}, "mark": {"type": "rule", "color": "#ff0000", "strokeWidth": 2, "strokeDash": [6, 3.5]}, "encoding": {"x2": {"field": "d2"}}},
            {"data": {"name": "a"}, "mark": {"type": "circle", "size": 68, "color": "#5b9bd5", "opacity": 1}}
          ]
        }
      ]
    },
    {
      "title": {"text": "(b)", "anchor": "start", "font": "Liberation Serif", "fontSize": 22, "fontWeight": "normal", "offset": 29, "dx": -5},
      "vconcat": [
        {
          "width": 440, "height": 269,
          "title": {"text": "Internal Calibration; N=15223; Model 2015", "offset": -35},
          "encoding": {
            "x": {"field": "d", "type": "temporal",
              "scale": {"type": "utc", "nice": false, "domain": [{"year": 2016, "month": 5, "date": 1, "utc": true}, {"year": 2017, "month": 6, "date": 5, "utc": true}]},
              "axis": {"title": "Analysis Date", "format": "%-m/%-d/%y", "labelAngle": -90, "labelPadding": 11, "titlePadding": 7, "grid": true,
                "values": [{"year": 2016, "month": 5, "date": 1, "utc": true}, {"year": 2016, "month": 6, "date": 20, "utc": true}, {"year": 2016, "month": 8, "date": 9, "utc": true}, {"year": 2016, "month": 9, "date": 28, "utc": true}, {"year": 2016, "month": 11, "date": 17, "utc": true}, {"year": 2017, "month": 1, "date": 6, "utc": true}, {"year": 2017, "month": 2, "date": 25, "utc": true}, {"year": 2017, "month": 4, "date": 16, "utc": true}, {"year": 2017, "month": 6, "date": 5, "utc": true}]}},
            "y": {"field": "v", "type": "quantitative",
              "scale": {"domain": [12000, 28000], "nice": false, "zero": false},
              "axis": {"title": "Calibration Peak Area (Counts)", "format": "d", "values": [12000, 14000, 16000, 18000, 20000, 22000, 24000, 26000, 28000], "labelPadding": 13, "titlePadding": 14, "titleY": 94, "grid": true}}
          },
          "layer": [
            {"data": {"name": "lb"}, "mark": {"type": "rule", "color": "#ff0000", "strokeWidth": 2, "strokeDash": [6, 3.5]}, "encoding": {"x2": {"field": "d2"}}},
            {"data": {"name": "b"}, "mark": {"type": "circle", "size": 80, "color": "#5b9bd5", "opacity": 1}}
          ]
        }
      ]
    }
  ]
}
